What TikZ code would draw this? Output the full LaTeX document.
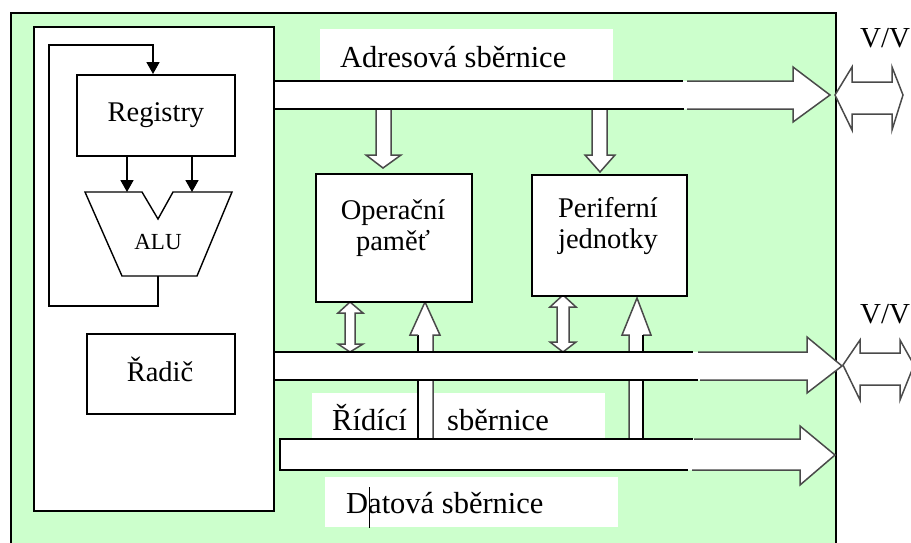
\documentclass[tikz,border=0pt]{standalone}
\usepackage{fontspec}
\setmainfont{Liberation Serif}
\usetikzlibrary{arrows.meta}
\definecolor{panel}{HTML}{CCFFCC}
\definecolor{busgrey}{HTML}{4A4A4A}

\begin{document}
\begin{tikzpicture}[x=1pt,y=-1pt,
  boxtxt/.style={font=\fontsize{28.5}{31}\selectfont, inner sep=0pt, align=center},
  bustxt/.style={font=\fontsize{30.5}{33}\selectfont, inner sep=0pt, anchor=base west},
  unit/.style={draw=black, line width=1.9pt, fill=white, anchor=north west, inner sep=0pt},
  flow/.style={line width=1.8pt, -{Triangle[length=12pt,width=13pt]}},
  blk/.style={line width=1.8pt, draw=black},
  gry/.style={line width=1.5pt, draw=busgrey, line join=miter}]

\useasboundingbox (0,0) rectangle (911,542);
\clip (0,0) rectangle (911,542);

% green system board
\fill[panel] (11,13) rectangle (836,560);
\draw[line width=1.6pt] (11,560) -- (11,13) -- (836,13) -- (836,560);

% white label plates of the buses
\fill[white] (320,29) rectangle (613,81);
\fill[white] (312,393) rectangle (605,439);
\fill[white] (325,477) rectangle (618,527);

% ---- hollow arrows between buses and units ----
% address bus -> memory
\fill[white] (376,100) -- (376,155) -- (366,155) -- (383,168) -- (401,155) -- (391,155) -- (391,100) -- cycle;
\draw[gry] (376,109) -- (376,155) -- (366,155) -- (383,168) -- (401,155) -- (391,155) -- (391,109);
% address bus -> peripherals
\fill[white] (592,100) -- (592,155) -- (585,155) -- (600,172) -- (615,155) -- (607,155) -- (607,100) -- cycle;
\draw[gry] (592,109) -- (592,155) -- (585,155) -- (600,172) -- (615,155) -- (607,155) -- (607,109);
% memory <-> middle bus
\filldraw[gry, fill=white] (350,302) -- (363,313) -- (355,313) -- (355,344) -- (363,344) -- (350,352) -- (338,344) -- (345,344) -- (345,313) -- (338,313) -- cycle;
% peripherals <-> middle bus
\filldraw[gry, fill=white] (563,295) -- (576,307) -- (569,307) -- (569,342) -- (576,342) -- (563,352) -- (550,342) -- (557,342) -- (557,307) -- (550,307) -- cycle;
% bottom bus -> memory
\fill[white] (418,445) -- (418,335) -- (410,335) -- (425,302) -- (440,335) -- (433,335) -- (433,445) -- cycle;
\draw[blk] (418,439) -- (418,335);
\draw[gry] (418,335) -- (410,335) -- (425,302) -- (440,335) -- (433,335) -- (433,439);
% bottom bus -> peripherals
\fill[white] (629,445) -- (629,335) -- (622,335) -- (637,298) -- (651,335) -- (643,335) -- (643,445) -- cycle;
\draw[gry] (629,439) -- (629,335) -- (622,335) -- (637,298) -- (651,335) -- (643,335);
\draw[blk] (643,335) -- (643,439);

% ---- buses ----
% address bus
\fill[white] (273,81) -- (793,81) -- (793,67) -- (830,95) -- (793,122) -- (793,109) -- (273,109) -- cycle;
\draw[blk] (273,81) -- (683,81);
\draw[blk] (273,109) -- (684,109);
\draw[gry] (687,81) -- (793,81) -- (793,67) -- (830,95) -- (793,122) -- (793,109) -- (687,109);
% middle bus
\fill[white] (274,352) -- (807,352) -- (807,337) -- (842,366) -- (807,393) -- (807,380) -- (274,380) -- cycle;
\draw[blk] (274,352) -- (693,352);
\draw[blk] (274,380) -- (698,380);
\draw[gry] (698,352) -- (807,352) -- (807,337) -- (842,366) -- (807,393) -- (807,380) -- (700,380);
% bottom bus
\fill[white] (280,439) -- (800,439) -- (800,426) -- (835,455) -- (800,485) -- (800,470) -- (280,470) -- cycle;
\draw[blk] (693,439) -- (280,439) -- (280,470) -- (688,470);
\draw[gry] (694,439) -- (800,439) -- (800,426) -- (835,455) -- (800,485) -- (800,470) -- (692,470);

% ---- I/O double arrows ----
\filldraw[gry, fill=white] (835,95) -- (852,67) -- (852,82) -- (892,82) -- (892,67) -- (903,95) -- (892,130) -- (892,114) -- (852,114) -- (852,130) -- cycle;
\filldraw[gry, fill=white] (843,365) -- (860,340) -- (860,353) -- (900,353) -- (900,340) -- (914,365) -- (900,400) -- (900,385) -- (860,385) -- (860,400) -- cycle;

% ---- processor ----
\node[unit, minimum width=240pt, minimum height=484pt] (cpu) at (33,26) {};
\node[unit, minimum width=158pt, minimum height=81pt] (reg) at (76,74) {};
\node[boxtxt] (regtxt) at (reg.center) {Registry};
\node[unit, minimum width=148pt, minimum height=80pt] (ctl) at (86,333) {};
\node[boxtxt, anchor=base] (ctltxt) at (160,381) {Řadič};

% ALU outline
\draw[line width=1.4pt, line join=miter] (85,192) -- (142,192) -- (158,219) -- (173,192) -- (232,192) -- (197,276) -- (122,276) -- cycle;
\node[font=\fontsize{23}{26}\selectfont, inner sep=0pt] (alu) at (158,242) {ALU};
\coordinate (aluinA) at (127,192);
\coordinate (aluinB) at (192,192);
\coordinate (aluout) at (158,276);
\coordinate (regin) at (153,74);
\draw[flow] (reg.south -| aluinA) -- (aluinA);
\draw[flow] (reg.south -| aluinB) -- (aluinB);
\draw[flow] (aluout) |- (49,306) -- (49,45) -| (regin);

% ---- memory and peripherals ----
\node[unit, minimum width=156pt, minimum height=128pt] (mem) at (315,173) {};
\node[boxtxt] (memtxt) at (393,228) {Operační\\paměť};
\node[unit, minimum width=155pt, minimum height=121pt] (per) at (531,174) {};
\node[boxtxt] (pertxt) at (608,226) {Periferní\\jednotky};

% ---- bus captions ----
\node[bustxt] (adrtxt) at (340,67) {Adresová sběrnice};
\node[bustxt] (ctrtxtA) at (332,430) {Řídící};
\node[bustxt] (ctrtxtB) at (447,430) {sběrnice};
\node[bustxt] (dattxt) at (346,513) {Datová sběrnice};
\draw[line width=1pt] (369,487) -- (369,528);
\node[bustxt, font=\fontsize{29}{32}\selectfont] (io1) at (860,47) {V/V};
\node[bustxt, font=\fontsize{29}{32}\selectfont] (io2) at (860,323) {V/V};
\end{tikzpicture}
\end{document}
